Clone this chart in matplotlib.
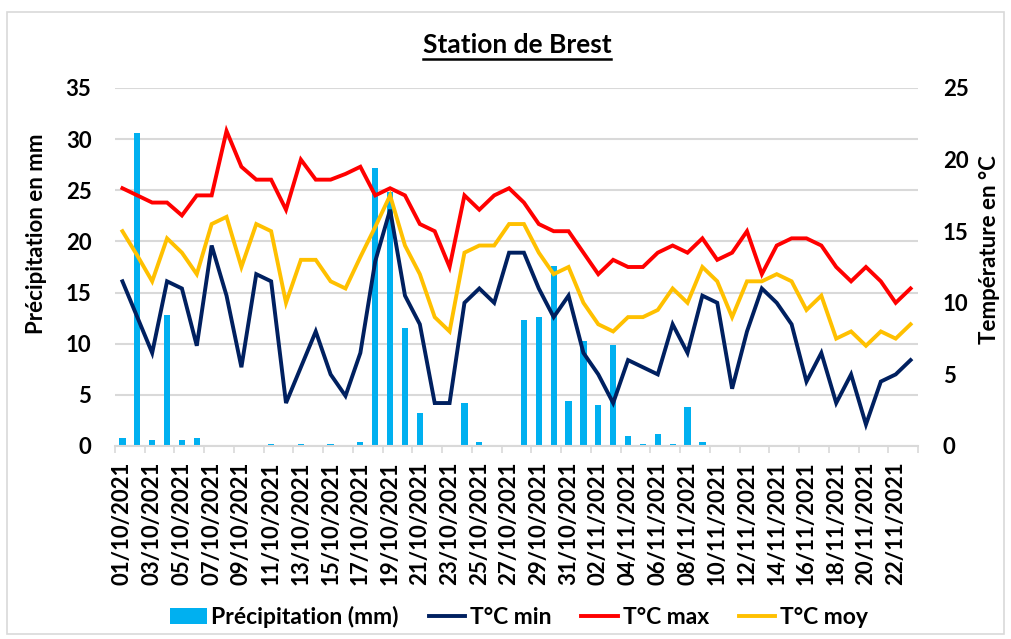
import matplotlib
matplotlib.use("Agg")
import matplotlib.pyplot as plt
from matplotlib.patches import Rectangle
from matplotlib.lines import Line2D
import numpy as np
import datetime as dt

plt.rcParams['font.family'] = ['Lato', 'DejaVu Sans']
plt.rcParams['font.weight'] = 'bold'

start = dt.date(2021, 10, 1)
dates = [(start + dt.timedelta(days=k)).strftime("%d/%m/%Y") for k in range(54)]

precip = [0.8, 30.6, 0.6, 12.8, 0.6, 0.8, 0, 0, 0, 0,
          0.2, 0, 0.2, 0, 0.2, 0, 0.4, 27.2, 24.8, 11.5,
          3.2, 0, 0, 4.2, 0.4, 0, 0, 12.3, 12.6, 17.6,
          4.4, 10.3, 4.0, 9.9, 1.0, 0.2, 1.2, 0.2, 3.8, 0.4,
          0, 0, 0, 0, 0, 0, 0, 0, 0, 0,
          0, 0, 0, 0]
tmin = [11.5, 9.0, 6.5, 11.5, 11.0, 7.0, 14.0, 10.5, 5.5, 12.0,
        11.5, 3.0, 5.5, 8.0, 5.0, 3.5, 6.5, 12.9, 16.5, 10.5,
        8.5, 3.0, 3.0, 10.0, 11.0, 10.0, 13.5, 13.5, 11.0, 9.0,
        10.5, 6.5, 5.0, 3.0, 6.0, 5.5, 5.0, 8.5, 6.5, 10.5,
        10.0, 4.0, 8.0, 11.0, 10.0, 8.5, 4.5, 6.5, 3.0, 5.0,
        1.5, 4.5, 5.0, 6.0]
tmax = [18, 17.5, 17, 17, 16.1, 17.5, 17.5, 22, 19.5, 18.6,
        18.6, 16.5, 20, 18.6, 18.6, 19, 19.5, 17.5, 18, 17.5,
        15.5, 15, 12.5, 17.5, 16.5, 17.5, 18, 17, 15.5, 15,
        15, 13.5, 12, 13, 12.5, 12.5, 13.5, 14, 13.5, 14.5,
        13, 13.5, 15, 12, 14, 14.5, 14.5, 14, 12.5, 11.5,
        12.5, 11.5, 10, 11]
tmoy = [15, 13.3, 11.5, 14.5, 13.5, 12, 15.5, 16, 12.5, 15.5,
        15, 10, 13, 13, 11.5, 11, 13.2, 15.3, 17.5, 14,
        12, 9, 8, 13.5, 14, 14, 15.5, 15.5, 13.5, 12,
        12.5, 10, 8.5, 8, 9, 9, 9.5, 11, 10, 12.5,
        11.5, 9, 11.5, 11.5, 12, 11.5, 9.5, 10.5, 7.5, 8,
        7, 8, 7.5, 8.5]

C_BAR = '#00B0F0'
C_MIN = '#002060'
C_MAX = '#FF0000'
C_MOY = '#FFC000'
GRID = '#D9D9D9'

W, H = 1011, 639
fig = plt.figure(figsize=(W / 100, H / 100), dpi=100)
fig.patches.append(Rectangle((7 / W, 5 / H), 997 / W, 622 / H, transform=fig.transFigure,
                             fill=False, edgecolor=GRID, linewidth=1.2))

ax = fig.add_axes([115 / W, 1 - 446 / H, 803 / W, 358 / H])
x = np.arange(len(dates))
bars = ax.bar(x, precip, width=0.42, color=C_BAR, zorder=2, label='Précipitation (mm)')
ax.set_xlim(-0.5, len(dates) - 0.5)
ax.set_ylim(0, 35)
ax.set_yticks(np.arange(0, 36, 5))
ax.yaxis.grid(True, color=GRID, linewidth=1.5, zorder=0)
ax.set_axisbelow(True)
for s in ['top', 'left', 'right']:
    ax.spines[s].set_visible(False)
ax.spines['bottom'].set_color(GRID)
ax.spines['bottom'].set_linewidth(1.5)
ax.tick_params(axis='y', length=0, pad=17, labelsize=16)
ax.set_xticks(x[::2])
ax.set_xticklabels(dates[::2], rotation=90, fontsize=16, fontweight='bold')
ax.tick_params(axis='x', which='major', length=0, pad=11)
ax.set_xticks(np.arange(-0.5, len(dates), 2), minor=True)
ax.tick_params(axis='x', which='minor', length=5, color=GRID, width=1.2)

ax2 = ax.twinx()
ax2.set_ylim(0, 25)
ax2.set_yticks(np.arange(0, 26, 5))
for s in ['top', 'left', 'right', 'bottom']:
    ax2.spines[s].set_visible(False)
ax2.tick_params(axis='y', length=0, pad=18, labelsize=16)
l1, = ax2.plot(x, tmin, color=C_MIN, linewidth=2.8, label='T°C min', solid_joinstyle='miter')
l2, = ax2.plot(x, tmax, color=C_MAX, linewidth=2.8, label='T°C max', solid_joinstyle='miter')
l3, = ax2.plot(x, tmoy, color=C_MOY, linewidth=2.8, label='T°C moy', solid_joinstyle='miter')

fig.text(37 / W, 1 - 234 / H, 'Précipitation en mm', rotation=90, ha='center', va='center',
         fontsize=16, fontweight='bold')
fig.text(990 / W, 1 - 250 / H, 'Température en °C', rotation=90, ha='center', va='center',
         fontsize=16, fontweight='bold')

title = fig.text(517 / W, 1 - 45 / H, 'Station de Brest', ha='center', va='center',
                 fontsize=19, fontweight='bold')

fig.legend([bars, l1, l2, l3], ['Précipitation (mm)', 'T°C min', 'T°C max', 'T°C moy'],
           loc='center', bbox_to_anchor=(519 / W, 1 - 617 / H), ncol=4, frameon=False,
           fontsize=16.5, handlelength=1.6, handletextpad=0.2, columnspacing=1.3)

fig.canvas.draw()
bb = title.get_window_extent().transformed(fig.transFigure.inverted())
uy = bb.y0 - 2 / H
fig.lines.append(Line2D([bb.x0, bb.x1], [uy, uy], transform=fig.transFigure,
                        color='black', linewidth=1.8))

fig.savefig('out.png', dpi=100)
